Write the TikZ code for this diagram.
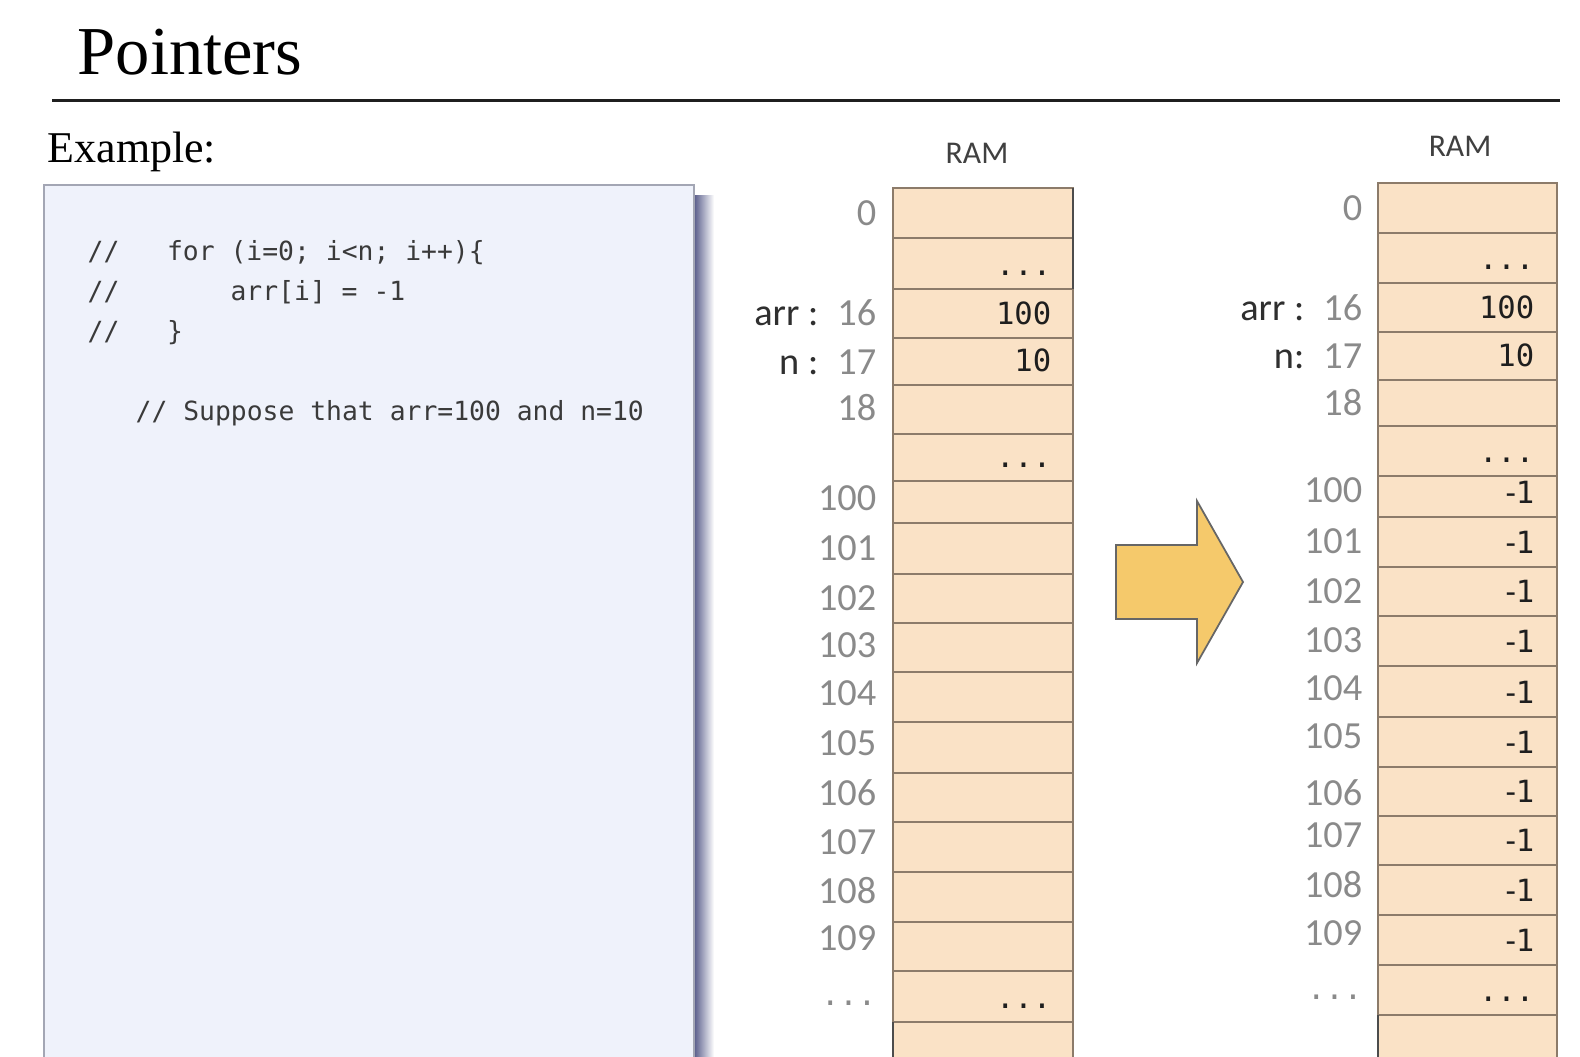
\documentclass[tikz,border=0pt]{standalone}
\usepackage{fontspec}
\setmainfont{Liberation Serif}
\newfontfamily\ramfont{Carlito}
\newfontfamily\codefont{DejaVu Sans Mono}
\definecolor{cellfill}{HTML}{FAE2C6}
\definecolor{cellline}{HTML}{8C7B6A}
\definecolor{boxfill}{HTML}{EFF2FB}
\definecolor{boxline}{HTML}{A3A6B4}
\definecolor{boxshadow}{HTML}{585C8A}
\definecolor{addrgray}{HTML}{8A8A8A}
\definecolor{namedark}{HTML}{2F2F2F}
\definecolor{valdark}{HTML}{1E1E1E}
\definecolor{codetext}{HTML}{3A3A3A}
\definecolor{arrowfill}{HTML}{F5C96B}
\newcommand{\vname}[1]{{\color{namedark}#1}}
\newcommand{\celldots}{...}
\newcommand{\minusone}{-\kern-1.2pt1}
\newcommand{\graydots}{{\codefont\fontsize{8.7}{10}\selectfont ...}}
\tikzset{
  title/.style={anchor=base west,inner sep=0pt,font=\fontsize{19.5}{22}\selectfont},
  subtitle/.style={anchor=base west,inner sep=0pt,font=\fontsize{12.5}{15}\selectfont},
  rule/.style={line width=0.85pt,draw=black!88},
  codebox/.style={draw=boxline,fill=boxfill,line width=0.5pt},
  code/.style={anchor=base west,inner sep=0pt,text=codetext,font=\codefont\fontsize{7.5}{9}\selectfont},
  ramlbl/.style={anchor=base,inner sep=0pt,text=black!75,font=\ramfont\fontsize{9}{11}\selectfont},
  cellbox/.style={draw=cellline,fill=cellfill,line width=0.45pt},
  darkedge/.style={draw=black!70,line width=0.7pt},
  addr/.style={anchor=base east,inner sep=0pt,text=addrgray,font=\ramfont\fontsize{10.9}{12}\selectfont},
  val/.style={anchor=base east,inner sep=0pt,text=valdark,font=\codefont\fontsize{8.7}{10}\selectfont},
  bigarrow/.style={draw=black!60,fill=arrowfill,line width=0.5pt,line join=miter}
}

\begin{document}
\begin{tikzpicture}[x=0.01cm,y=-0.01cm]
\useasboundingbox (0,0) rectangle (1580,1056);
\clip (0,0) rectangle (1580,1056);
\fill[white] (0,0) rectangle (1580,1056);
\node[title] (title) at (77,74) {Pointers};
\draw[rule] (52,100) -- (1560,100);
\node[subtitle] (example) at (47,162) {Example:};

\shade[left color=boxshadow,right color=white] (694,195) rectangle (714,1080);
\draw[codebox] (44,185) rectangle (694,1080);
\node[code] (loop) at (87,260) {//~~~for~(i=0;~i<n;~i++)\{};
\node[code] (body) at (87,300) {//~~~~~~~arr[i]~=~-1};
\node[code] (close) at (87,340) {//~~~\}};
\node[code] (note) at (135,420) {//~Suppose~that~arr=100~and~n=10};

\node[ramlbl] (ramA) at (977,163) {RAM};
\foreach \ya/\yb/\yl/\ad/\vl [count=\k] in {188/238/225/0/, 238/289/276//\celldots, 289/338/325/{\vname{arr :}\enspace 16}/100, 338/385/374/{\vname{n :}\enspace 17}/10, 385/434/420/18/, 434/481/467//\celldots, 481/523/510/100/, 523/574/560/101/, 574/623/610/102/, 623/672/657/103/, 672/722/705/104/, 722/773/755/105/, 773/822/805/106/, 822/872/854/107/, 872/922/903/108/, 922/971/950/109/, 971/1022/1005/\graydots/\celldots, 1022/1075/1060//}{
  \draw[cellbox] (893,\ya) rectangle (1073,\yb);
  \node[addr] (addrA\k) at (877,\yl) {\ad};
  \node[val] (valA\k) at (1052,{\yb-14}) {\vl};
}
\draw[darkedge] (1073,188) -- (1073,289);
\draw[darkedge] (893,1022) -- (893,1060);

\draw[bigarrow] (1116,545) -- (1197,545) -- (1197,501) -- (1243,582) -- (1197,663) -- (1197,619) -- (1116,619) -- cycle;

\node[ramlbl] (ramB) at (1460,156) {RAM};
\foreach \ya/\yb/\yl/\ad/\vl [count=\k] in {183/233/220/0/, 233/283/270//\celldots, 283/332/320/{\vname{arr :}\enspace 16}/100, 332/380/368/{\vname{n:}\enspace 17}/10, 380/426/415/18/, 426/476/462//\celldots, 476/517/502/100/\minusone, 517/567/553/101/\minusone, 567/616/603/102/\minusone, 616/666/652/103/\minusone, 666/717/700/104/\minusone, 717/767/748/105/\minusone, 767/816/805/106/\minusone, 816/865/847/107/\minusone, 865/915/897/108/\minusone, 915/965/945/109/\minusone, 965/1015/999/\graydots/\celldots, 1015/1070/1055//}{
  \draw[cellbox] (1378,\ya) rectangle (1557,\yb);
  \node[addr] (addrB\k) at (1363,\yl) {\ad};
  \node[val] (valB\k) at (1535,{\yb-14}) {\vl};
}
\draw[darkedge] (1378,1015) -- (1378,1060);
\end{tikzpicture}
\end{document}
